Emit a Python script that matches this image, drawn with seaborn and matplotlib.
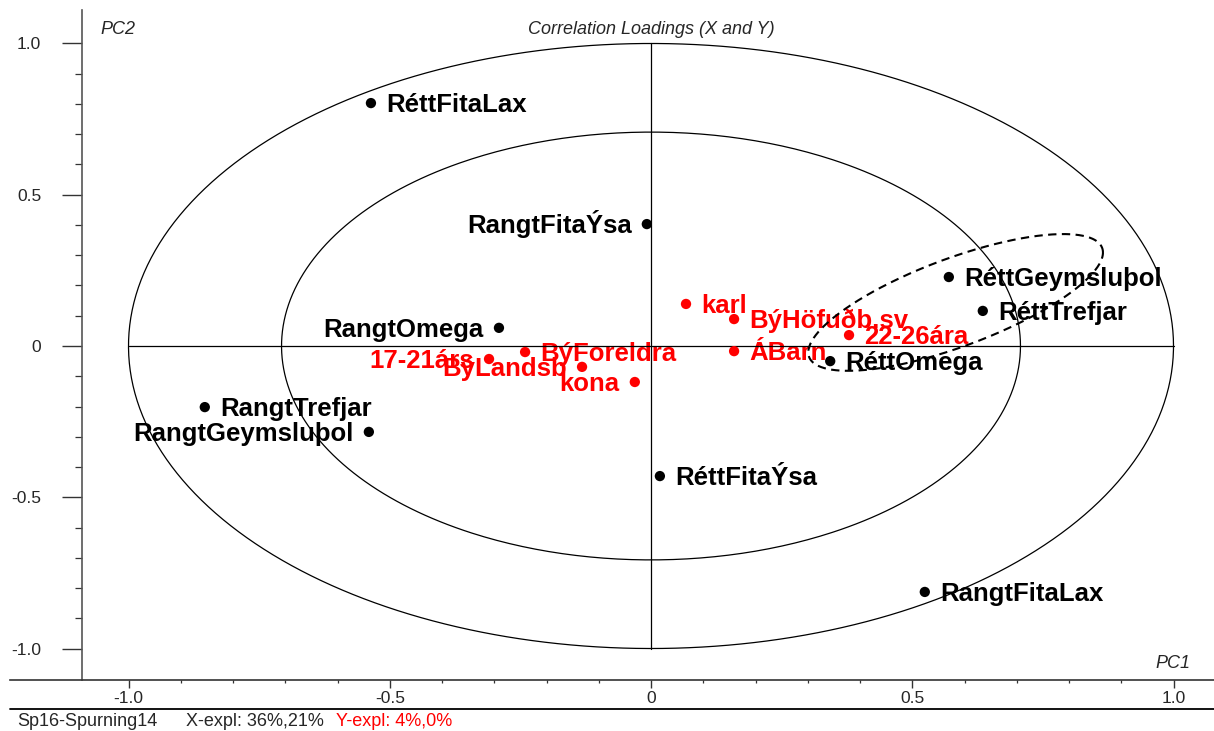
import numpy as np
import pandas as pd
import matplotlib
matplotlib.use("Agg")
import matplotlib.pyplot as plt
import seaborn as sns
from matplotlib.lines import Line2D
from matplotlib.ticker import FixedLocator, FixedFormatter

# ---------------- data ----------------
x_names = ["RéttFitaLax", "RangtFitaÝsa", "RéttGeymsluþol", "RéttTrefjar", "RangtOmega",
           "RéttOmega", "RangtTrefjar", "RangtGeymsluþol", "RéttFitaÝsa", "RangtFitaLax"]
x_pc1 = [-0.536, -0.008, 0.570, 0.635, -0.291, 0.343, -0.854, -0.540, 0.017, 0.524]
x_pc2 = [0.803, 0.403, 0.228, 0.116, 0.060, -0.050, -0.202, -0.284, -0.430, -0.813]

y_names = ["karl", "BýHöfuðb.sv", "22-26ára", "ÁBarn", "BýForeldra", "17-21árs", "BýLandsb", "kona"]
y_pc1 = [0.067, 0.159, 0.379, 0.159, -0.241, -0.310, -0.132, -0.031]
y_pc2 = [0.139, 0.089, 0.036, -0.017, -0.020, -0.043, -0.069, -0.119]

major_ticks = [-1.0, -0.5, 0.0, 0.5, 1.0]
x_tick_labels = ["-1.0", "-0.5", "0", "0.5", "1.0"]
y_tick_labels = ["-1.0", "-0.5", "0", "0.5", "1.0"]

title = "Correlation Loadings (X and Y)"
x_axis_name = "PC1"
y_axis_name = "PC2"
footer_model = "Sp16-Spurning14"
footer_xexpl = "X-expl: 36%,21%"
footer_yexpl = "Y-expl: 4%,0%"

# dashed group ellipse (center, spreads, correlation)
ell_center = (0.583, 0.144)
ell_sd = (0.282, 0.226)
ell_corr = 0.73

# label placement (style)
left_labels = {"RangtFitaÝsa", "RangtOmega", "RangtGeymsluþol", "17-21árs", "BýLandsb", "kona"}

# ---------------- figure ----------------
sns.set_theme(style="white")
plt.rcParams['font.family'] = ['Liberation Sans', 'DejaVu Sans']

W, H = 1214, 731
fig = plt.figure(figsize=(W / 100, H / 100), dpi=100)
ax = fig.add_axes([10 / W, 51 / H, 1204 / W, 670 / H])
ax.set_xlim(-1.2268, 1.0775)
ax.set_ylim(-1.1041, 1.1107)
ax.set_facecolor("white")

for s in ["top", "right"]:
    ax.spines[s].set_visible(False)
ax.spines["left"].set_position(("data", -1.089))
ax.spines["left"].set_color("#555555")
ax.spines["bottom"].set_color("#333333")
for s in ["left", "bottom"]:
    ax.spines[s].set_linewidth(1.2)

# circles and cross
t = np.linspace(0, 2 * np.pi, 500)
for r in [1.0, np.sqrt(0.5)]:
    ax.plot(r * np.cos(t), r * np.sin(t), color="black", lw=0.9, zorder=3)
ax.plot([-1, 1], [0, 0], color="black", lw=0.9, zorder=3)
ax.plot([0, 0], [-1, 1], color="black", lw=0.9, zorder=3)

# dashed ellipse
sx, sy = ell_sd
L = np.array([[sx, 0.0], [ell_corr * sy, sy * np.sqrt(1 - ell_corr ** 2)]])
pts = L @ np.vstack([np.cos(t), np.sin(t)])
ax.plot(ell_center[0] + pts[0], ell_center[1] + pts[1], color="black", lw=1.5,
        ls=(0, (4, 2.6)), zorder=3)

# points
df = pd.concat([
    pd.DataFrame({"name": x_names, "PC1": x_pc1, "PC2": x_pc2, "block": "X"}),
    pd.DataFrame({"name": y_names, "PC1": y_pc1, "PC2": y_pc2, "block": "Y"}),
], ignore_index=True)
colors = {"X": "black", "Y": "#ff0000"}
sns.scatterplot(data=df, x="PC1", y="PC2", hue="block", palette=colors, s=55,
                edgecolor="none", legend=False, ax=ax, zorder=4)
ax.set_xlabel("")
ax.set_ylabel("")

for _, row in df.iterrows():
    left = row["name"] in left_labels
    ax.annotate(row["name"], (row["PC1"], row["PC2"]),
                xytext=(-11 if left else 11, -6.5), textcoords="offset points",
                ha="right" if left else "left", va="baseline",
                fontsize=18.5, fontweight="bold", color=colors[row["block"]], zorder=2)

# ticks
ax.xaxis.set_major_locator(FixedLocator(major_ticks))
ax.xaxis.set_major_formatter(FixedFormatter(x_tick_labels))
ax.yaxis.set_major_locator(FixedLocator(major_ticks))
ax.yaxis.set_major_formatter(FixedFormatter(y_tick_labels))
minor = [v for v in np.round(np.arange(-1.0, 1.001, 0.1), 1) if v not in major_ticks]
ax.xaxis.set_minor_locator(FixedLocator(minor))
ax.yaxis.set_minor_locator(FixedLocator(minor))
ax.tick_params(axis="x", which="major", direction="out", length=5.8, width=1.0,
               color="#333333", pad=2, labelsize=12.5, bottom=True)
ax.tick_params(axis="x", which="minor", direction="out", length=2.5, width=0.9,
               color="#333333", bottom=True)
ax.tick_params(axis="y", which="major", direction="out", length=14.4, width=1.0,
               color="#333333", pad=15, labelsize=12.5, left=True)
ax.tick_params(axis="y", which="minor", direction="out", length=5.2, width=0.9,
               color="#333333", left=True)
ax.grid(False)

# titles
ax.text(0, 1.0446, title, ha="center", va="center", fontsize=13, style="italic")
ax.text(-1.0545, 1.0446, y_axis_name, ha="left", va="center", fontsize=13, style="italic")
ax.text(1.0316, -1.048, x_axis_name, ha="right", va="center", fontsize=13, style="italic")

# footer
fig.add_artist(Line2D([10 / W, 1.0], [22 / H, 22 / H], transform=fig.transFigure,
                      color="black", lw=1.3))
fig.text(17 / W, 5 / H, footer_model, fontsize=13, va="baseline", ha="left")
fig.text(186 / W, 5 / H, footer_xexpl, fontsize=13, va="baseline", ha="left")
fig.text(336 / W, 5 / H, footer_yexpl, fontsize=13, va="baseline", ha="left", color="#ff0000")

fig.savefig("out.png", dpi=100)
